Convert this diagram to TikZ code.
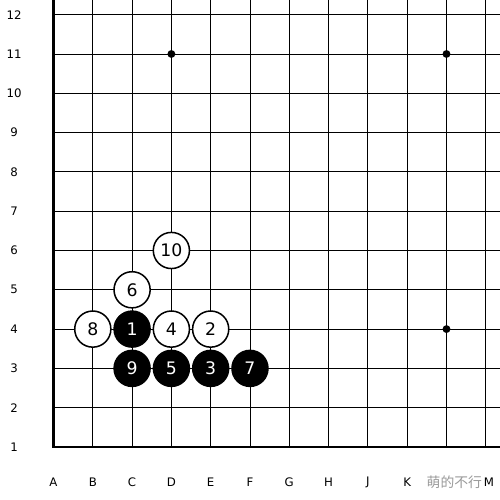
\documentclass[tikz,border=0pt]{standalone}
\usepackage{fontspec}
\setmainfont{DejaVu Sans}
\newfontfamily\cjkfont{Noto Sans CJK SC}
\tikzset{
  blackstone/.style={circle,fill=black,draw=black,line width=1pt,minimum size=0.92cm,inner sep=0pt,text=white,font=\fontsize{12.5}{14}\selectfont},
  whitestone/.style={circle,fill=white,draw=black,line width=1.1pt,minimum size=0.92cm,inner sep=0pt,text=black,font=\fontsize{12.5}{14}\selectfont},
  boardlabel/.style={font=\fontsize{8.5}{10}\selectfont,inner sep=0pt}
}
\begin{document}
\begin{tikzpicture}
  \useasboundingbox[fill=white] (-1.361,-1.349) rectangle (11.361,11.374);
  % board lines
  \begin{scope}
    \clip (-1.361,-1.349) rectangle (11.361,11.374);
    \foreach \i in {1,...,11} {
      \draw [line width=0.65pt] (\i,0) -- (\i,11.5);
      \draw [line width=0.65pt] (0,\i) -- (11.5,\i);
    }
    \draw [line width=1.5pt] (0,11.5) -- (0,0) -- (11.5,0);
  \end{scope}
  % star points
  \fill (3,10) circle (0.1);
  \fill (10,10) circle (0.1);
  \fill (10,3) circle (0.1);
  % coordinates (L is hidden under the watermark)
  \foreach \l [count=\c from 0] in {A,B,C,D,E,F,G,H,J,K}
    \node [boardlabel] (col\l) at (\c,-0.89) {\l};
  \node [boardlabel] (colM) at (11.08,-0.89) {M};
  \foreach \r in {1,...,12}
    \node [boardlabel] (row\r) at (-1,\r-1) {\r};
  % stones
  \node [blackstone] (s1) at (2,3) {1};
  \node [whitestone] (s2) at (4,3) {2};
  \node [blackstone] (s3) at (4,2) {3};
  \node [whitestone] (s4) at (3,3) {4};
  \node [blackstone] (s5) at (3,2) {5};
  \node [whitestone] (s6) at (2,4) {6};
  \node [blackstone] (s7) at (5,2) {7};
  \node [whitestone] (s8) at (1,3) {8};
  \node [blackstone] (s9) at (2,2) {9};
  \node [whitestone] (s10) at (3,5) {10};
  % watermark
  \node [text=black!40,font=\cjkfont\fontsize{10}{12}\selectfont,inner sep=0pt] (mark) at (10.2,-0.9) {萌的不行};
\end{tikzpicture}
\end{document}
